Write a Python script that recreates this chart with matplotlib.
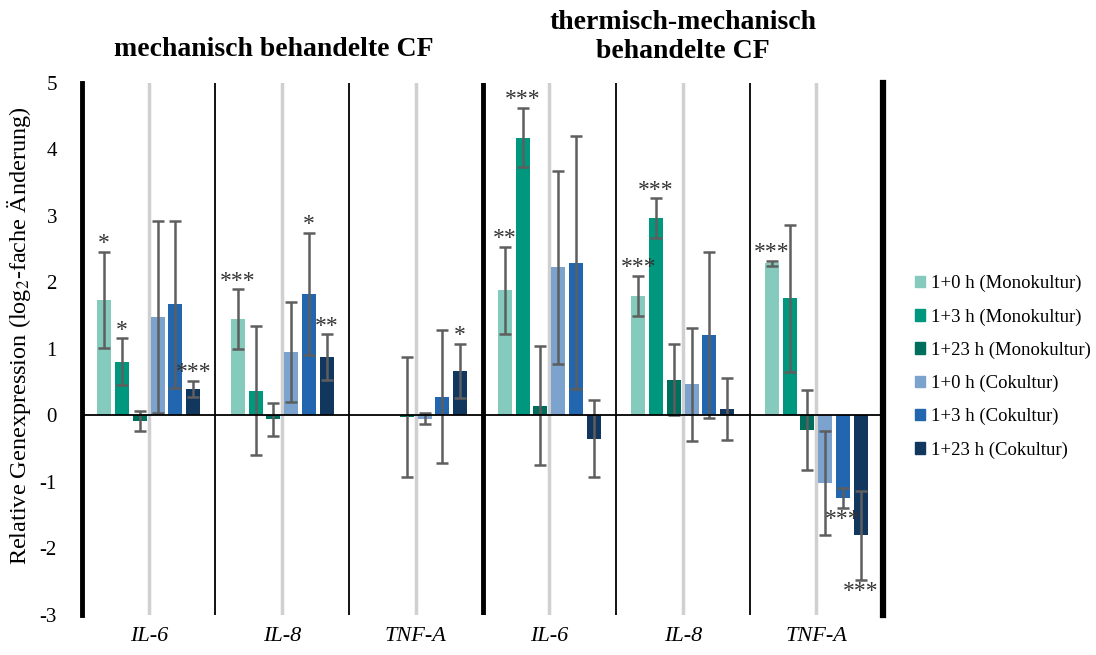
import numpy as np
import matplotlib.pyplot as plt
from matplotlib.patches import Patch

plt.rcParams['font.family'] = ['Liberation Serif', 'DejaVu Serif']
plt.rcParams['mathtext.fontset'] = 'stix'
plt.rcParams['axes.unicode_minus'] = False

genes = ['IL-6', 'IL-8', 'TNF-A', 'IL-6', 'IL-8', 'TNF-A']
series = ['1+0 h (Monokultur)', '1+3 h (Monokultur)', '1+23 h (Monokultur)',
          '1+0 h (Cokultur)', '1+3 h (Cokultur)', '1+23 h (Cokultur)']
colors = ['#84cbbd', '#00977f', '#006e5c', '#7ba3cd', '#2166ae', '#12375f']

# mean log2 fold change per gene group, one row per series
mono_0 = [1.74, 1.45, np.nan, 1.88, 1.80, 2.29]
mono_3 = [0.81, 0.37, np.nan, 4.18, 2.97, 1.76]
mono_23 = [-0.08, -0.06, -0.02, 0.15, 0.54, -0.22]
co_0 = [1.48, 0.95, -0.05, 2.23, 0.47, -1.01]
co_3 = [1.67, 1.83, 0.28, 2.30, 1.21, -1.24]
co_23 = [0.40, 0.88, 0.67, -0.35, 0.10, -1.80]

# standard deviations
sd_mono_0 = [0.72, 0.45, np.nan, 0.66, 0.30, 0.04]
sd_mono_3 = [0.35, 0.97, np.nan, 0.45, 0.30, 1.10]
sd_mono_23 = [0.15, 0.25, 0.90, 0.90, 0.53, 0.60]
sd_co_0 = [1.44, 0.75, 0.08, 1.45, 0.85, 0.78]
sd_co_3 = [1.26, 0.92, 1.00, 1.90, 1.25, 0.15]
sd_co_23 = [0.12, 0.34, 0.41, 0.58, 0.47, 0.67]

# significance marks
sig_mono_0 = ['*', '***', '', '**', '***', '***']
sig_mono_3 = ['*', '', '', '***', '***', '']
sig_mono_23 = ['', '', '', '', '', '']
sig_co_0 = ['', '', '', '', '', '']
sig_co_3 = ['', '*', '', '', '', '***']
sig_co_23 = ['***', '**', '*', '', '', '***']

values = [mono_0, mono_3, mono_23, co_0, co_3, co_23]
errors = [sd_mono_0, sd_mono_3, sd_mono_23, sd_co_0, sd_co_3, sd_co_23]
marks = [sig_mono_0, sig_mono_3, sig_mono_23, sig_co_0, sig_co_3, sig_co_23]

fig = plt.figure(figsize=(10.96, 6.55), dpi=100)
ax = fig.add_axes([0.0748, 0.0611, 0.7309, 0.8122])

x = np.arange(len(genes))
step = 0.1333
width = 0.105

# light centre lines and black group separators
for xc in x:
    ax.axvline(xc, color='#d0d0d0', lw=2.5, zorder=0)
for xs in [0.5, 1.5, 3.5, 4.5]:
    ax.axvline(xs, color='black', lw=1.3, zorder=1)
ax.axvline(2.5, color='black', lw=3.5, zorder=1)

for j, (vals, errs, sig) in enumerate(zip(values, errors, marks)):
    xpos = x + (j - 2.5) * step
    ax.bar(xpos, vals, width, color=colors[j], label=series[j], zorder=2)
    ax.errorbar(xpos, vals, yerr=errs, fmt='none', ecolor='#5e5e5e',
                elinewidth=1.8, capsize=4, capthick=1.8, zorder=3)
    for xi, v, e, s in zip(xpos, vals, errs, sig):
        if not s:
            continue
        if v >= 0:
            ax.text(xi, v + e + 0.12, s, ha='center', va='center',
                    fontsize=17, color='#333333', zorder=4)
        else:
            ax.text(xi, v - e - 0.18, s, ha='center', va='center',
                    fontsize=17, color='#333333', zorder=4)

ax.axhline(0, color='black', lw=1.3, zorder=3)

ax.set_xlim(-0.5, 5.5)
ax.set_ylim(-3, 5)
ax.set_yticks(range(-3, 6))
ax.set_xticks(x)
ax.set_xticklabels(genes, fontstyle='italic', fontsize=16)
ax.tick_params(axis='both', length=0)
ax.tick_params(axis='y', pad=18, labelsize=15)
ax.tick_params(axis='x', pad=9)

for side in ['top', 'bottom']:
    ax.spines[side].set_visible(False)
ax.spines['left'].set_linewidth(3.5)
ax.spines['right'].set_linewidth(4.5)

ax.set_ylabel('Relative Genexpression (log$_2$-fache Änderung)', fontsize=17.5)
ax.yaxis.set_label_coords(-0.061, 0.525)

fig.text(274 / 1096, 1 - 50 / 655, 'mechanisch behandelte CF',
         ha='center', va='center', fontsize=20, fontweight='bold')
fig.text(683 / 1096, 1 - 37 / 655, 'thermisch-mechanisch\nbehandelte CF',
         ha='center', va='center', fontsize=20, fontweight='bold',
         linespacing=1.2)

handles = [Patch(color=c) for c in colors]
fig.legend(handles, series, loc='center left', bbox_to_anchor=(0.8195, 0.44),
           frameon=False, fontsize=13.5, handlelength=0.55, handleheight=0.55,
           handletextpad=0.3, labelspacing=0.85)

fig.savefig('out.png', dpi=100)
